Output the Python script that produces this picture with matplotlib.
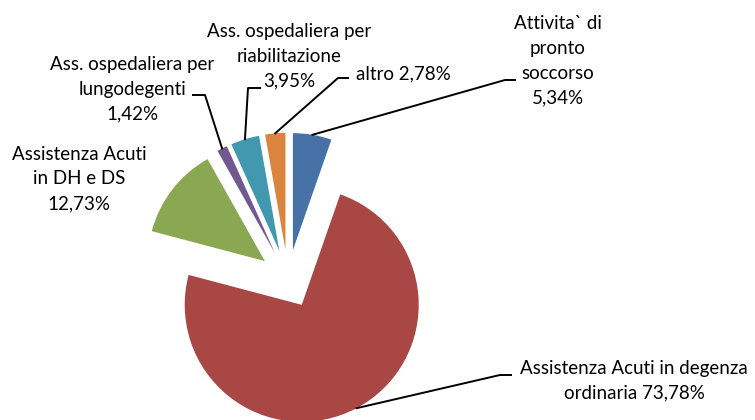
import numpy as np
import matplotlib
matplotlib.use("Agg")
import matplotlib.pyplot as plt

plt.rcParams['font.family'] = ['Lato', 'DejaVu Sans']

# ---------------------------------------------
# dati
# ---------------------------------------------
labels = ["Attivita` di\npronto\nsoccorso",
          "Assistenza Acuti in degenza\nordinaria",
          "Assistenza Acuti\nin DH e DS",
          "Ass. ospedaliera per\nlungodegenti",
          "Ass. ospedaliera per\nriabilitazione",
          "altro"]
values = [5.34, 73.78, 12.73, 1.42, 3.95, 2.78]
pct_sep = ["\n", " ", "\n", "\n", "\n", " "]
colors = ["#4672A8", "#A94744", "#8AA751", "#71588F", "#4298AF", "#DB843D"]

# ---------------------------------------------
# layout (pixel, origine in alto a sinistra)
# ---------------------------------------------
W, H = 755, 420
cx, cy, R = 288, 279, 117
lab_pos = [(558, 61), (634, 381), (79, 179), (132, 89), (289, 56), (403, 74)]
elbow = [(505, 80), (500, 375), None, (205, 95), (248, 88), (338, 78)]
elbow_end = [(515, 80), (511, 375), None, (193, 95), (260, 88), (348, 78)]


def px(x, y):
    return (x - cx) / R, (cy - y) / R


fig = plt.figure(figsize=(W / 100, H / 100), dpi=100)
ax = fig.add_axes([0, 0, 1, 1])

wedges, _ = ax.pie(values, colors=colors, startangle=90, counterclock=False,
                   explode=[0.25] * len(values), radius=1.0,
                   wedgeprops=dict(linewidth=0))
ax.set_aspect("auto")
ax.set_xlim(-cx / R, (W - cx) / R)
ax.set_ylim(-(H - cy) / R, cy / R)
ax.axis("off")

for i, w in enumerate(wedges):
    txt = labels[i] + pct_sep[i] + ("%.2f%%" % values[i]).replace(".", ",")
    tx, ty = px(*lab_pos[i])
    ax.text(tx, ty, txt, ha="center", va="center", fontsize=13.5,
            linespacing=1.55, color="black")
    if elbow[i] is None:
        continue
    mid = np.deg2rad((w.theta1 + w.theta2) / 2)
    x0 = w.center[0] + w.r * np.cos(mid)
    y0 = w.center[1] + w.r * np.sin(mid)
    ex, ey = px(*elbow[i])
    fx, fy = px(*elbow_end[i])
    ax.plot([x0, ex, fx], [y0, ey, fy], color="black", lw=1.4)

fig.savefig("out.png", dpi=100)
